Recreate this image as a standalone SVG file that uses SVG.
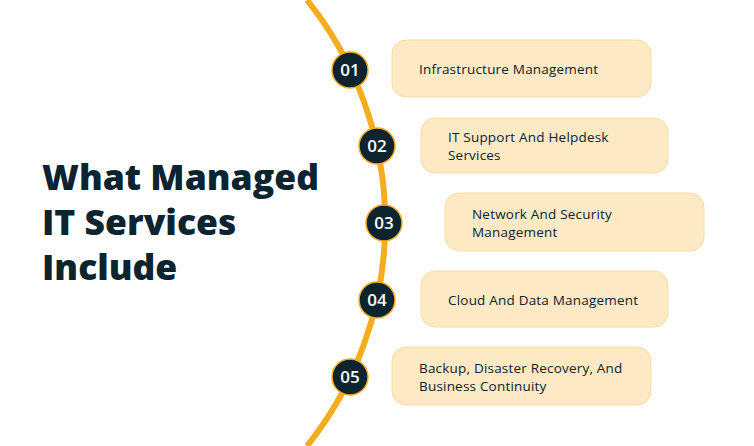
<svg xmlns="http://www.w3.org/2000/svg" width="754" height="446" viewBox="0 0 754 446">
<style>
.box{fill:#fde9c3;stroke:#f9dca6;stroke-width:1}
.num{fill:#0c2330;stroke:#f5ad1f;stroke-width:1.5}
.nt{font-family:"Open Sans",sans-serif;font-weight:600;font-size:17px;fill:#fff;text-anchor:middle}
.lt{font-family:"Open Sans",sans-serif;font-size:13.5px;letter-spacing:0.2px;fill:#0c2330}
.title{font-family:"Open Sans",sans-serif;font-weight:800;font-size:35.5px;fill:#0c2330}
</style>
<rect width="754" height="446" fill="#fff"/>
<g id="connectors"><path d="M307 0 A357 357 0 0 1 307 446" fill="none" stroke="#f5ad1f" stroke-width="6"/></g>
<text class="title"><tspan x="42" y="190">What Managed</tspan><tspan x="42" y="235">IT Services</tspan><tspan x="42" y="280">Include</tspan></text>
<g id="n1"><rect class="box" x="392" y="40" width="259" height="57" rx="14"/><circle class="num" cx="350" cy="70" r="18"/><text class="nt" x="350" y="76">01</text><text class="lt" x="419" y="74">Infrastructure Management</text></g>
<g id="n2"><rect class="box" x="421" y="118" width="247" height="55" rx="14"/><circle class="num" cx="377" cy="146" r="18"/><text class="nt" x="377" y="152">02</text><text class="lt" x="448" y="142">IT Support And Helpdesk</text><text class="lt" x="448" y="160">Services</text></g>
<g id="n3"><rect class="box" x="445" y="193" width="259" height="58" rx="14"/><circle class="num" cx="384" cy="223" r="18"/><text class="nt" x="384" y="229">03</text><text class="lt" x="472" y="219">Network And Security</text><text class="lt" x="472" y="237">Management</text></g>
<g id="n4"><rect class="box" x="421" y="271" width="247" height="56" rx="14"/><circle class="num" cx="377" cy="300" r="18"/><text class="nt" x="377" y="306">04</text><text class="lt" x="448" y="305">Cloud And Data Management</text></g>
<g id="n5"><rect class="box" x="392" y="347" width="259" height="58" rx="14"/><circle class="num" cx="350" cy="377" r="18"/><text class="nt" x="350" y="383">05</text><text class="lt" x="419" y="373">Backup, Disaster Recovery, And</text><text class="lt" x="419" y="391">Business Continuity</text></g>
</svg>
